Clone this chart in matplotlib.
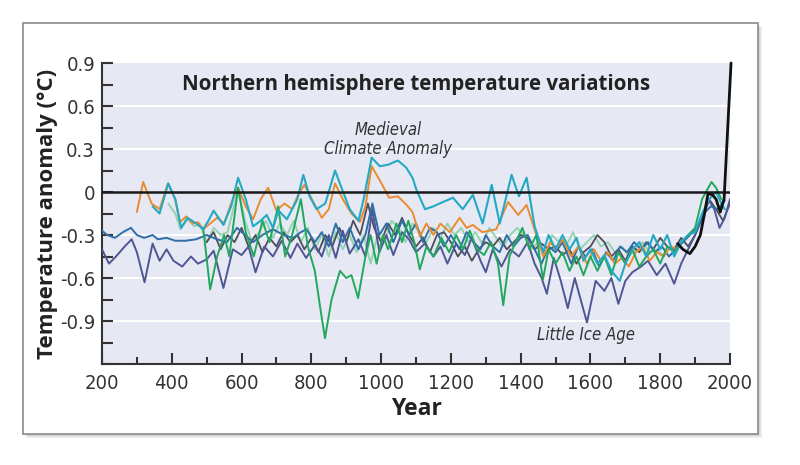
import matplotlib
matplotlib.use("Agg")
import numpy as np
from matplotlib import pyplot as plt
from matplotlib.patches import Rectangle
from matplotlib.ticker import MultipleLocator

# reconstructions (turning points)
navy_years = [200, 220, 240, 265, 285, 300, 322, 345, 365, 385, 405, 430, 455, 475, 500, 520, 548, 575, 600, 620,
              640, 665, 690, 715, 740, 760, 785, 810, 830, 850, 870, 890, 910, 935, 955, 975, 995, 1015, 1035, 1060,
              1080, 1100, 1125, 1150, 1170, 1190, 1215, 1240, 1260, 1285, 1300, 1320, 1345, 1370, 1395, 1420, 1440,
              1460, 1475, 1495, 1515, 1535, 1555, 1590, 1615, 1640, 1660, 1680, 1700, 1720, 1745, 1765, 1790, 1815,
              1840, 1860, 1880, 1900, 1920, 1940, 1955, 1970, 1985, 2000]
navy_vals = [-0.40, -0.50, -0.45, -0.38, -0.33, -0.42, -0.63, -0.36, -0.48, -0.40, -0.48, -0.52, -0.45, -0.50, -0.47,
             -0.41, -0.67, -0.40, -0.44, -0.38, -0.56, -0.38, -0.45, -0.34, -0.46, -0.36, -0.46, -0.37, -0.45, -0.30,
             -0.46, -0.27, -0.43, -0.33, -0.45, -0.12, -0.42, -0.30, -0.44, -0.28, -0.33, -0.42, -0.36, -0.45, -0.38,
             -0.50, -0.36, -0.44, -0.32, -0.48, -0.56, -0.40, -0.52, -0.40, -0.45, -0.35, -0.50, -0.60, -0.71, -0.46,
             -0.62, -0.81, -0.60, -0.91, -0.62, -0.69, -0.60, -0.78, -0.62, -0.56, -0.52, -0.48, -0.58, -0.50, -0.64,
             -0.50, -0.40, -0.30, -0.18, -0.06, -0.12, -0.25, -0.18, -0.05]

green_years = [490, 510, 530, 550, 565, 590, 612, 635, 660, 680, 705, 725, 745, 770, 790, 810, 825, 839, 858, 882,
               900, 915, 934, 955, 970, 987, 1005, 1020, 1044, 1060, 1078, 1095, 1111, 1130, 1150, 1173, 1195, 1215,
               1235, 1254, 1275, 1295, 1315, 1335, 1350, 1368, 1385, 1405, 1425, 1445, 1464, 1480, 1500, 1520, 1540,
               1560, 1580, 1600, 1620, 1640, 1660, 1680, 1700, 1720, 1740, 1760, 1780, 1800, 1820, 1840, 1860, 1880,
               1900, 1920, 1947, 1960, 1975]
green_vals = [-0.25, -0.68, -0.45, -0.30, -0.45, 0.03, -0.28, -0.45, -0.20, -0.35, -0.10, -0.45, -0.30, -0.05, -0.38,
              -0.55, -0.80, -1.02, -0.75, -0.55, -0.60, -0.58, -0.74, -0.45, -0.30, -0.50, -0.30, -0.40, -0.22, -0.35,
              -0.20, -0.35, -0.54, -0.38, -0.45, -0.32, -0.42, -0.30, -0.40, -0.27, -0.40, -0.44, -0.35, -0.50, -0.79,
              -0.45, -0.35, -0.25, -0.40, -0.30, -0.61, -0.40, -0.50, -0.42, -0.55, -0.45, -0.58, -0.45, -0.55, -0.45,
              -0.58, -0.42, -0.50, -0.40, -0.52, -0.45, -0.40, -0.50, -0.38, -0.42, -0.35, -0.30, -0.25, -0.05, 0.07,
              0.03, -0.05]

cyan_years = [345, 365, 390, 410, 427, 445, 470, 490, 505, 520, 548, 570, 590, 612, 633, 655, 672, 690, 706, 730,
              760, 777, 795, 815, 840, 868, 891, 910, 935, 950, 973, 996, 1020, 1048, 1072, 1090, 1102, 1126, 1150,
              1177, 1206, 1234, 1263, 1291, 1317, 1340, 1374, 1395, 1417, 1440, 1465, 1480, 1500, 1520, 1540, 1560,
              1580, 1600, 1620, 1640, 1660, 1684, 1700, 1720, 1740, 1760, 1780, 1800, 1820, 1840, 1860, 1880, 1900,
              1920, 1940, 1960, 1975, 1985]
cyan_vals = [-0.10, -0.15, 0.06, -0.05, -0.25, -0.18, -0.22, -0.26, -0.20, -0.13, -0.23, -0.10, 0.10, -0.05, -0.24,
             -0.20, -0.16, -0.25, -0.13, -0.19, -0.05, 0.12, -0.03, -0.12, -0.08, 0.15, 0.00, -0.12, -0.20, -0.05,
             0.24, 0.18, 0.19, 0.22, 0.17, 0.10, 0.01, -0.12, -0.10, -0.07, -0.04, -0.12, -0.02, -0.22, 0.05, -0.22,
             0.12, -0.03, 0.10, -0.24, -0.42, -0.30, -0.40, -0.30, -0.40, -0.32, -0.48, -0.40, -0.50, -0.44, -0.55,
             -0.62, -0.50, -0.40, -0.35, -0.45, -0.30, -0.40, -0.30, -0.45, -0.35, -0.30, -0.28, -0.15, -0.05, 0.00,
             -0.08, -0.12]

orange_years = [300, 318, 342, 365, 389, 410, 423, 442, 460, 475, 490, 510, 530, 550, 570, 590, 612, 633, 655, 676,
                700, 723, 745, 760, 780, 808, 830, 850, 868, 890, 915, 939, 955, 973, 1001, 1023, 1048, 1073, 1090,
                1111, 1130, 1150, 1170, 1197, 1225, 1245, 1263, 1290, 1330, 1364, 1393, 1417, 1445, 1465, 1485,
                1500, 1520, 1545, 1565, 1590, 1610, 1630, 1650, 1670, 1690, 1710, 1730, 1750, 1770, 1790, 1810,
                1830, 1850]
orange_vals = [-0.14, 0.07, -0.08, -0.12, 0.06, -0.05, -0.21, -0.17, -0.22, -0.21, -0.26, -0.22, -0.18, -0.22, -0.08,
               0.03, -0.10, -0.19, -0.05, 0.03, -0.13, -0.08, -0.12, -0.03, 0.05, -0.08, -0.18, -0.12, 0.06, -0.05,
               -0.15, -0.21, -0.10, 0.18, 0.06, -0.04, -0.03, -0.09, -0.14, -0.31, -0.22, -0.30, -0.22, -0.28, -0.18,
               -0.25, -0.23, -0.28, -0.26, -0.07, -0.16, -0.09, -0.30, -0.45, -0.35, -0.40, -0.33, -0.45, -0.38,
               -0.50, -0.40, -0.48, -0.42, -0.50, -0.46, -0.52, -0.42, -0.38, -0.48, -0.42, -0.45, -0.38, -0.40]

blue_years = [200, 215, 237, 260, 283, 300, 321, 345, 360, 385, 410, 440, 470, 500, 530, 558, 587, 610, 633, 660,
              690, 720, 748, 770, 786, 810, 830, 850, 870, 890, 910, 935, 955, 975, 995, 1015, 1035, 1060, 1080,
              1100, 1120, 1140, 1160, 1180, 1200, 1225, 1245, 1265, 1285, 1300, 1320, 1340, 1360, 1380, 1400, 1420,
              1440, 1460, 1480, 1500, 1520, 1545, 1565, 1585, 1605, 1625, 1645, 1665, 1685, 1705, 1725, 1745, 1765,
              1785, 1805, 1825, 1845, 1865, 1885, 1905, 1925, 1945, 1965, 1985]
blue_vals = [-0.27, -0.30, -0.32, -0.28, -0.25, -0.30, -0.32, -0.30, -0.33, -0.32, -0.34, -0.34, -0.33, -0.30, -0.33,
             -0.35, -0.25, -0.30, -0.35, -0.30, -0.26, -0.30, -0.32, -0.28, -0.26, -0.35, -0.28, -0.38, -0.22, -0.35,
             -0.25, -0.40, -0.30, -0.08, -0.30, -0.22, -0.35, -0.20, -0.30, -0.22, -0.35, -0.25, -0.28, -0.38, -0.30,
             -0.40, -0.28, -0.35, -0.40, -0.30, -0.38, -0.42, -0.30, -0.38, -0.32, -0.30, -0.40, -0.50, -0.38, -0.42,
             -0.35, -0.50, -0.38, -0.45, -0.40, -0.52, -0.42, -0.48, -0.38, -0.42, -0.35, -0.40, -0.35, -0.42, -0.38,
             -0.45, -0.40, -0.35, -0.30, -0.25, -0.15, -0.10, -0.12, -0.06]

mint_years = [390, 410, 425, 445, 465, 480, 500, 520, 540, 560, 590, 610, 630, 650, 670, 690, 710, 730, 750, 770,
              790, 810, 830, 850, 870, 890, 910, 930, 950, 970, 990, 1010, 1030, 1050, 1070, 1090, 1110, 1130, 1150,
              1170, 1190, 1210, 1230, 1250, 1270, 1290, 1310, 1330, 1350, 1370, 1390, 1410, 1430, 1450, 1470, 1490,
              1510, 1530, 1550, 1570, 1590, 1610, 1630, 1650, 1670, 1690, 1710, 1730, 1750, 1770, 1790, 1810]
mint_vals = [-0.08, -0.15, -0.26, -0.19, -0.24, -0.22, -0.35, -0.25, -0.30, -0.28, 0.02, -0.20, -0.35, -0.28, -0.20,
             -0.32, -0.22, -0.30, -0.20, -0.35, -0.25, -0.40, -0.30, -0.45, -0.28, -0.40, -0.30, -0.42, -0.30, -0.50,
             -0.30, -0.35, -0.20, -0.25, -0.35, -0.22, -0.28, -0.35, -0.25, -0.32, -0.22, -0.30, -0.25, -0.35, -0.28,
             -0.36, -0.25, -0.32, -0.38, -0.30, -0.25, -0.30, -0.40, -0.35, -0.45, -0.30, -0.35, -0.38, -0.28, -0.40,
             -0.35, -0.30, -0.38, -0.35, -0.42, -0.38, -0.45, -0.40, -0.35, -0.42, -0.40, -0.45]

gray_years = [500, 520, 540, 560, 580, 600, 620, 640, 660, 680, 700, 720, 740, 760, 780, 800, 820, 840, 860, 880,
              900, 920, 940, 962, 980, 1000, 1020, 1040, 1060, 1080, 1100, 1120, 1140, 1160, 1180, 1200, 1220, 1240,
              1260, 1280, 1300, 1320, 1340, 1360, 1380, 1400, 1420, 1440, 1460, 1480, 1500, 1520, 1540, 1560, 1580,
              1600, 1620, 1640, 1660, 1680, 1700, 1720, 1740, 1760, 1780, 1800, 1820, 1840, 1860, 1880, 1900, 1920,
              1940, 1960, 1980, 2000]
gray_vals = [-0.35, -0.28, -0.40, -0.30, -0.35, -0.25, -0.38, -0.30, -0.42, -0.32, -0.38, -0.28, -0.35, -0.30, -0.40,
             -0.32, -0.42, -0.30, -0.38, -0.25, -0.35, -0.20, -0.30, -0.08, -0.25, -0.35, -0.22, -0.30, -0.18, -0.30,
             -0.38, -0.32, -0.42, -0.30, -0.28, -0.35, -0.45, -0.38, -0.48, -0.40, -0.35, -0.38, -0.32, -0.40, -0.35,
             -0.30, -0.32, -0.40, -0.36, -0.40, -0.38, -0.44, -0.40, -0.50, -0.42, -0.38, -0.30, -0.35, -0.45, -0.40,
             -0.48, -0.38, -0.42, -0.35, -0.40, -0.32, -0.38, -0.40, -0.32, -0.38, -0.30, -0.18, -0.05, -0.12, -0.20,
             -0.08]

# instrumental record
inst_years = [1850, 1865, 1885, 1900, 1915, 1927, 1937, 1950, 1960, 1972, 1983, 2003]
inst_vals = [-0.36, -0.40, -0.43, -0.38, -0.30, -0.15, -0.01, -0.02, -0.05, -0.14, -0.05, 0.90]

yticks = [-0.9, -0.6, -0.3, 0, 0.3, 0.6, 0.9]
ytick_labels = ["-0.9", "-0.6", "-0.3", "0", "0.3", "0.6", "0.9"]
xticks = [200, 400, 600, 800, 1000, 1200, 1400, 1600, 1800, 2000]

boldf = ["Open Sans", "DejaVu Sans"]
tick_font = dict(family="DejaVu Sans", fontstretch="condensed", fontsize=14.5, color="#333333")

fig = plt.figure(figsize=(8, 4.65), dpi=100)
fig.patch.set_facecolor("white")

# frame with a soft shadow, kept behind the axes
for k, a in enumerate([0.05, 0.05, 0.06]):
    off = (k + 2) / 800
    fig.patches.append(Rectangle((0.029 + off, 0.0667 - off * 1.7), 0.9185, 0.8838, transform=fig.transFigure,
                                 facecolor="#000000", alpha=a, edgecolor="none", zorder=-3))
fig.patches.append(Rectangle((0.029, 0.0667), 0.9185, 0.8838, transform=fig.transFigure,
                             facecolor="white", edgecolor="#8a8a8a", lw=1.2, zorder=-2))

ax = fig.add_axes([0.1275, 0.2172, 0.785, 0.6473])
ax.set_zorder(2)
ax.set_facecolor("#e6e9f3")
ax.set_xlim(200, 2000)
ax.set_ylim(-1.2, 0.9)

for y in [-0.9, -0.6, -0.3, 0.3, 0.6]:
    ax.axhline(y, color="white", lw=1.4, zorder=1)

lkw = dict(solid_joinstyle="round", solid_capstyle="round")
ax.plot(mint_years, mint_vals, color="#93d3b2", lw=1.4, zorder=2, **lkw)
ax.plot(gray_years, gray_vals, color="#4d4d5a", lw=1.3, zorder=2, **lkw)
ax.plot(navy_years, navy_vals, color="#4f5694", lw=1.4, zorder=3, **lkw)
ax.plot(blue_years, blue_vals, color="#2f6ea8", lw=1.4, zorder=3, **lkw)
ax.plot(orange_years, orange_vals, color="#ea8b30", lw=1.4, zorder=4, **lkw)
ax.plot(green_years, green_vals, color="#22a85c", lw=1.4, zorder=4, **lkw)
ax.plot(cyan_years, cyan_vals, color="#23a9c4", lw=1.5, zorder=5, **lkw)
ax.axhline(0, color="#1a1a1a", lw=1.8, zorder=6)
ax.plot(inst_years, inst_vals, color="#111111", lw=2.0, zorder=7, clip_on=False, **lkw)

for s in ["top", "right"]:
    ax.spines[s].set_visible(False)
for s in ["left", "bottom"]:
    ax.spines[s].set_color("#333333")
    ax.spines[s].set_linewidth(1.5)

ax.set_xticks(xticks)
ax.set_xticklabels([str(x) for x in xticks], **tick_font)
ax.xaxis.set_minor_locator(MultipleLocator(100))
ax.set_yticks(yticks)
ax.set_yticklabels(ytick_labels, **tick_font)
ax.yaxis.set_minor_locator(MultipleLocator(0.15))
ax.tick_params(axis="both", which="both", direction="in", color="#333333", width=1.5)
ax.tick_params(axis="x", which="major", length=8, pad=7)
ax.tick_params(axis="x", which="minor", length=5)
ax.tick_params(axis="y", which="both", length=8, pad=5)

ax.set_xlabel("Year", family=boldf, fontweight="bold", fontsize=16.5, color="#222222", labelpad=3)
ax.set_ylabel("Temperature anomaly (°C)", family=boldf, fontweight="bold", fontsize=16, color="#222222")
ax.yaxis.set_label_coords(-0.07, 0.5)

ax.text(0.5, 0.927, "Northern hemisphere temperature variations", transform=ax.transAxes, ha="center",
        va="center", family=boldf, fontweight="bold", fontsize=14.8, color="#222222")
ax.text(0.455, 0.745, "Medieval\nClimate Anomaly", transform=ax.transAxes, ha="center", va="center",
        family="DejaVu Sans", fontstretch="condensed", style="italic", fontsize=12, color="#333333",
        linespacing=1.1)
ax.text(0.77, 0.095, "Little Ice Age", transform=ax.transAxes, ha="center", va="center",
        family="DejaVu Sans", fontstretch="condensed", style="italic", fontsize=12, color="#333333")

fig.savefig("out.png", dpi=100)
